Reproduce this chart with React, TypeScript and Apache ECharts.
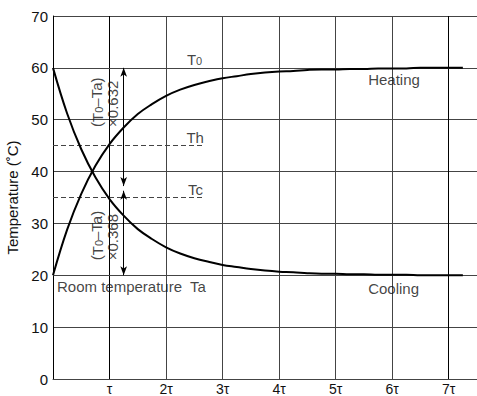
import React, { useEffect, useRef } from "react";
import * as echarts from "echarts";

// time in units of tau (read every 0.25 tau)
const timeTau = [0, 0.25, 0.5, 0.75, 1.0, 1.25, 1.5, 1.75, 2.0, 2.25, 2.5, 2.75, 3.0, 3.25, 3.5, 3.75, 4.0, 4.25, 4.5, 4.75, 5.0, 5.25, 5.5, 5.75, 6.0, 6.25, 6.5, 6.75, 7.0, 7.25];
const heating = [20, 28.8, 35.7, 41.1, 45.3, 48.5, 51.1, 53.0, 54.6, 55.8, 56.7, 57.4, 58.0, 58.4, 58.8, 59.1, 59.3, 59.4, 59.6, 59.7, 59.7, 59.8, 59.8, 59.9, 59.9, 59.9, 60, 60, 60, 60];
const cooling = [60, 51.2, 44.3, 38.9, 34.7, 31.5, 28.9, 27.0, 25.4, 24.2, 23.3, 22.6, 22.0, 21.6, 21.2, 20.9, 20.7, 20.6, 20.4, 20.3, 20.3, 20.2, 20.2, 20.1, 20.1, 20.1, 20, 20, 20, 20];

// reference temperatures
const T0 = 60;
const Th = 45;
const Tc = 35;
const Ta = 20;

const xTickLabels = ["", "τ", "2τ", "3τ", "4τ", "5τ", "6τ", "7τ"];
const yTickLabels = ["0", "10", "20", "30", "40", "50", "60", "70"];

const FONT = "'Liberation Sans', Arial, Helvetica, sans-serif";
const FS = 15;

const sub = {
  t: { fontSize: FS, fontFamily: FONT, color: "#111", lineHeight: 17, verticalAlign: "bottom" },
  s: { fontSize: 11, fontFamily: FONT, color: "#111", lineHeight: 17, verticalAlign: "bottom" },
};

export default function App() {
  const ref = useRef<HTMLDivElement>(null);
  useEffect(() => {
    if (!ref.current) return;
    const chart = echarts.init(ref.current, null, { renderer: "svg" });
    const xSplitColors = ["#444", "#000", "#444", "#444", "#444", "#444", "#444", "#000", "#444"];
    const baseLabel = { fontSize: FS, fontFamily: FONT, color: "#111" };
    const ann = (x: number, y: number, formatter: string, extra: any) => ({
      value: [x, y],
      label: { show: true, position: "inside", formatter, ...baseLabel, rich: sub, ...extra },
    });
    chart.setOption({
      animation: false,
      backgroundColor: "#fff",
      grid: { left: 53, right: 0, top: 16, bottom: 17, containLabel: false, outerBoundsMode: "none" },
      xAxis: {
        type: "value",
        min: 0,
        max: 7.5,
        interval: 1,
        axisLine: { show: true, lineStyle: { color: "#444", width: 1 } },
        axisTick: { show: false },
        axisLabel: {
          margin: 3,
          fontSize: 14,
          lineHeight: 14,
          fontFamily: FONT,
          color: "#111",
          formatter: (v: number) => (Number.isInteger(v) && v >= 0 && v < xTickLabels.length ? xTickLabels[v] : ""),
        },
        splitLine: { show: true, lineStyle: { color: xSplitColors, width: 1 } },
      },
      yAxis: {
        type: "value",
        min: 0,
        max: 70,
        interval: 10,
        name: "Temperature (˚C)",
        nameLocation: "middle",
        nameGap: 31,
        nameTextStyle: { fontSize: FS, fontFamily: FONT, color: "#111" },
        axisLine: { show: true, lineStyle: { color: "#000", width: 1 } },
        axisTick: { show: false },
        axisLabel: {
          margin: 5,
          fontSize: FS,
          fontFamily: FONT,
          color: "#111",
          formatter: (v: number) => yTickLabels[Math.round(v / 10)] ?? "",
        },
        splitLine: { show: true, lineStyle: { color: "#444", width: 1 } },
      },
      series: [
        {
          name: "Heating",
          type: "line",
          data: timeTau.map((t, i) => [t, heating[i]]),
          showSymbol: false,
          smooth: 0.4,
          lineStyle: { color: "#000", width: 2 },
          z: 5,
          markLine: {
            silent: true,
            symbol: "none",
            label: { show: false },
            lineStyle: { color: "#444", type: [5, 3], width: 1 },
            data: [
              [{ coord: [0, T0] }, { coord: [7.5, T0] }],
              [{ coord: [0, Th] }, { coord: [2.66, Th] }],
              [{ coord: [0, Tc] }, { coord: [2.66, Tc] }],
              [{ coord: [0, Ta] }, { coord: [7.5, Ta] }],
            ],
          },
        },
        {
          name: "Cooling",
          type: "line",
          data: timeTau.map((t, i) => [t, cooling[i]]),
          showSymbol: false,
          smooth: 0.4,
          lineStyle: { color: "#000", width: 2 },
          z: 5,
          markLine: {
            silent: true,
            symbol: ["arrow", "arrow"],
            symbolSize: [5, 9],
            label: { show: false },
            lineStyle: { color: "#000", type: "solid", width: 1 },
            data: [
              [{ coord: [1.25, T0] }, { coord: [1.25, 37.2] }],
              [{ coord: [1.25, 36.3] }, { coord: [1.25, Ta] }],
            ],
          },
        },
        {
          name: "labels",
          type: "scatter",
          symbolSize: 0,
          silent: true,
          z: 6,
          data: [
            ann(2.64, T0, "{t|T}{s|0}", { align: "right", verticalAlign: "bottom", offset: [0, -1] }),
            ann(2.67, Th, "Th", { align: "right", verticalAlign: "bottom", offset: [0, -1] }),
            ann(2.655, Tc, "Tc", { align: "right", verticalAlign: "bottom", offset: [0, -1] }),
            ann(5.575, T0, "Heating", { align: "left", verticalAlign: "top", offset: [0, 4] }),
            ann(5.575, Ta, "Cooling", { align: "left", verticalAlign: "top", offset: [0, 6] }),
            ann(0.07, Ta, "Room temperature  Ta", { align: "left", verticalAlign: "top", offset: [0, 4] }),
            ann(0.91, 48.6, "({t|T}{s|0}–Ta)\n×0.632", {
              align: "left",
              verticalAlign: "middle",
              rotate: 90,
              lineHeight: 16,
            }),
            ann(0.91, 22.9, "({t|T}{s|0}–Ta)\n×0.368", {
              align: "left",
              verticalAlign: "middle",
              rotate: 90,
              lineHeight: 16,
            }),
          ],
        },
      ],
    });
    return () => chart.dispose();
  }, []);
  return (
    <div
      ref={ref}
      style={{ position: "fixed", left: 0, top: 0, width: 477, height: 396, background: "#fff" }}
    />
  );
}
